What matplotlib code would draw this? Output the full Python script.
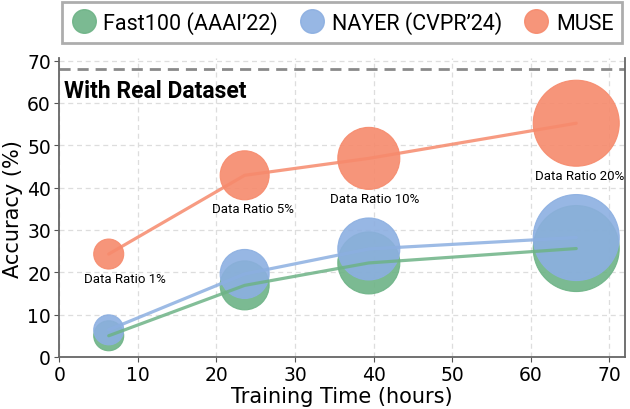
import matplotlib
matplotlib.use("Agg")
import matplotlib.pyplot as plt
import numpy as np

# ---- data ----
train_time = [6.3, 23.6, 39.4, 65.8]
fast100_acc = [5.0, 16.9, 22.2, 25.6]
nayer_acc = [6.4, 19.6, 25.5, 28.2]
muse_acc = [24.3, 42.9, 46.9, 55.2]
bubble_diam = [30, 49, 62, 86]          # bubble diameters (px)
ratio_labels = ["Data Ratio 1%", "Data Ratio 5%", "Data Ratio 10%", "Data Ratio 20%"]
real_dataset_acc = 67.9
series_names = ["Fast100 (AAAI\u201922)", "NAYER (CVPR\u201924)", "MUSE"]

green = "#6DB386"
blue = "#8CAFE1"
orange = "#F68A6C"

dpi = 100
fig = plt.figure(figsize=(6.3, 4.1), dpi=dpi)
ax = fig.add_axes([0.094, 0.127, 0.898, 0.728])

px2pt = 72.0 / dpi
sizes = [(d * px2pt) ** 2 for d in bubble_diam]

series = [(fast100_acc, green), (nayer_acc, blue), (muse_acc, orange)]
for acc, col in series:
    ax.scatter(train_time, acc, s=sizes, color=col, alpha=0.9,
               edgecolors=col, linewidths=0.8, zorder=3)
for acc, col in series:
    ax.plot(train_time, acc, color=col, lw=2.3, alpha=0.85, zorder=4,
            solid_capstyle="round")

# real dataset line
ax.axhline(real_dataset_acc, color="#8a8a8a", lw=2, ls=(0, (4, 2.5)), zorder=2)
ax.text(0.6, 63.0, "With Real Dataset", fontsize=16.5, fontweight="bold",
        family=["Roboto", "DejaVu Sans"], va="center", ha="left", zorder=5)

# ratio labels under MUSE bubbles (small horizontal nudges, in px)
label_dx_px = [16, 8, 6, 3]
for x, y, d, lab, dx in zip(train_time, muse_acc, bubble_diam, ratio_labels, label_dx_px):
    off = -(d / 2 + 9) * px2pt
    ax.annotate(lab, (x, y), xytext=(dx * px2pt, off), textcoords="offset points",
                ha="center", va="center", fontsize=9.5,
                family=["Roboto", "DejaVu Sans"], zorder=6)

ax.set_xlim(0, 72)
ax.set_ylim(0, 70.5)
ax.set_xticks(np.arange(0, 71, 10))
ax.set_yticks(np.arange(0, 71, 10))
ax.tick_params(labelsize=13.5, length=3.5, color="#555555", pad=2.5)
ax.grid(True, ls=(0, (4, 3)), color="#dddddd", lw=0.9, zorder=0)
ax.set_axisbelow(True)
for sp in ["left", "bottom", "right"]:
    ax.spines[sp].set_color("#666666")
    ax.spines[sp].set_linewidth(1.3)
ax.spines["top"].set_visible(False)

ax.set_xlabel("Training Time (hours)", fontsize=15, labelpad=1)
ax.set_ylabel("Accuracy (%)", fontsize=15, labelpad=3)

handles = [plt.Line2D([], [], ls="", marker="o", markersize=17,
                      markerfacecolor=c, markeredgecolor=c, alpha=0.9)
           for c in (green, blue, orange)]
leg = ax.legend(handles, series_names, loc="lower center",
                bbox_to_anchor=(0.5, 1.053), ncol=3, frameon=True,
                fancybox=False, prop={"family": ["Roboto", "DejaVu Sans"], "size": 15.5},
                handletextpad=0.3, columnspacing=1.0, borderpad=0.4,
                handlelength=1.2, borderaxespad=0)
leg.get_frame().set_edgecolor("#999999")
leg.get_frame().set_linewidth(2)

fig.savefig("out.png", dpi=dpi)
